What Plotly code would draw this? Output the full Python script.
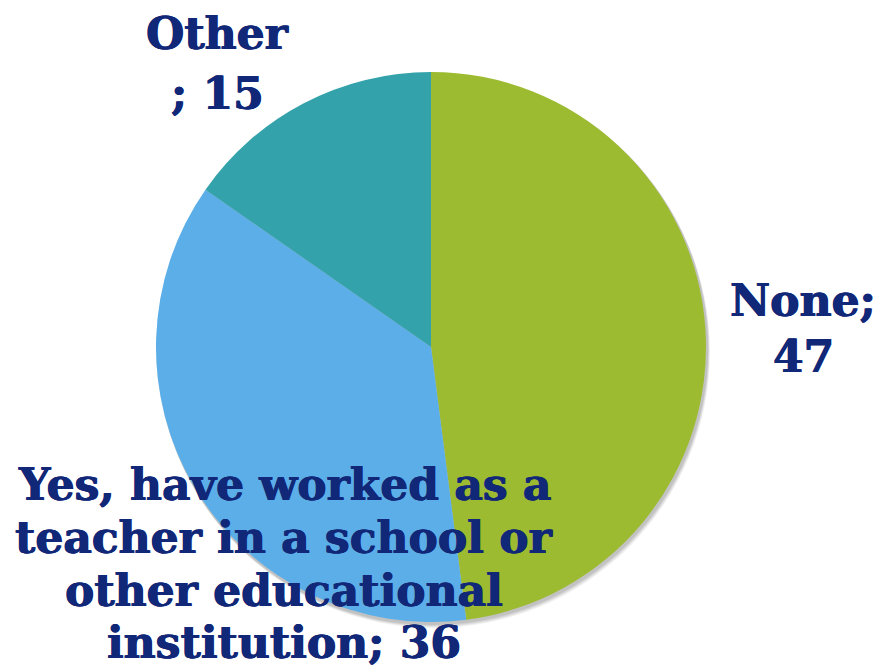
import plotly.graph_objects as go

# Survey answers and their counts
categories = ["None", "Yes, have worked as a teacher in a school or other educational institution", "Other"]
values = [47, 36, 15]
slice_colors = ["#9DBB31", "#5CAEE8", "#33A2AB"]

# Wrapped label lines shown beside each slice (count appended on the last line)
label_lines = {
    categories[0]: ["None;", "{v}"],
    categories[1]: ["Yes, have worked as a", "teacher in a school or", "other educational", "institution; {v}"],
    categories[2]: ["Other", "; {v}"],
}

W, H = 883, 669
cx, cy, r = 431, 347, 275


def pie_domain(ox=0, oy=0, grow=0):
    rr = r + grow
    return dict(x=[(cx + ox - rr) / W, (cx + ox + rr) / W],
                y=[1 - (cy + oy + rr) / H, 1 - (cy + oy - rr) / H])


fig = go.Figure()

# soft drop shadow: a few faint grey discs offset down-right
for k, (off, alpha) in enumerate([(5, 0.05), (4, 0.06), (3, 0.07), (2, 0.08)]):
    fig.add_trace(go.Pie(
        values=[1], labels=["shadow"], sort=False,
        textinfo="none", hoverinfo="skip",
        marker=dict(colors=[f"rgba(0,0,0,{alpha})"], line=dict(width=0)),
        domain=pie_domain(off * 0.6, off, 1),
        showlegend=False,
    ))

fig.add_trace(go.Pie(
    labels=categories,
    values=values,
    sort=False,
    direction="clockwise",
    rotation=0,
    textinfo="none",
    hoverinfo="label+value",
    marker=dict(colors=slice_colors, line=dict(width=0)),
    domain=pie_domain(),
    showlegend=False,
))

ink = "#112778"
fsize = 44
label_font = dict(family="DejaVu Serif", size=fsize, color=ink, weight="bold",
                  shadow=f"0.6px 0 0 {ink}, -0.6px 0 0 {ink}")

# Horizontal centre and line baselines (pixels) for each label block
label_x = {categories[0]: 803, categories[1]: 284, categories[2]: 217}
label_baselines = {
    categories[0]: [315, 371],
    categories[1]: [499, 552, 605, 657],
    categories[2]: [48, 108],
}

for cat, val in zip(categories, values):
    lines = [ln.format(v=val) for ln in label_lines[cat]]
    for ln, base in zip(lines, label_baselines[cat]):
        ymid = base - 0.34 * fsize
        fig.add_annotation(
            x=label_x[cat] / W, y=1 - ymid / H, xref="paper", yref="paper",
            text=ln, showarrow=False, align="center",
            xanchor="center", yanchor="middle", font=label_font,
        )

fig.update_layout(
    width=W, height=H,
    margin=dict(l=0, r=0, t=0, b=0),
    paper_bgcolor="white",
    plot_bgcolor="white",
)

fig.write_html("out.html")
